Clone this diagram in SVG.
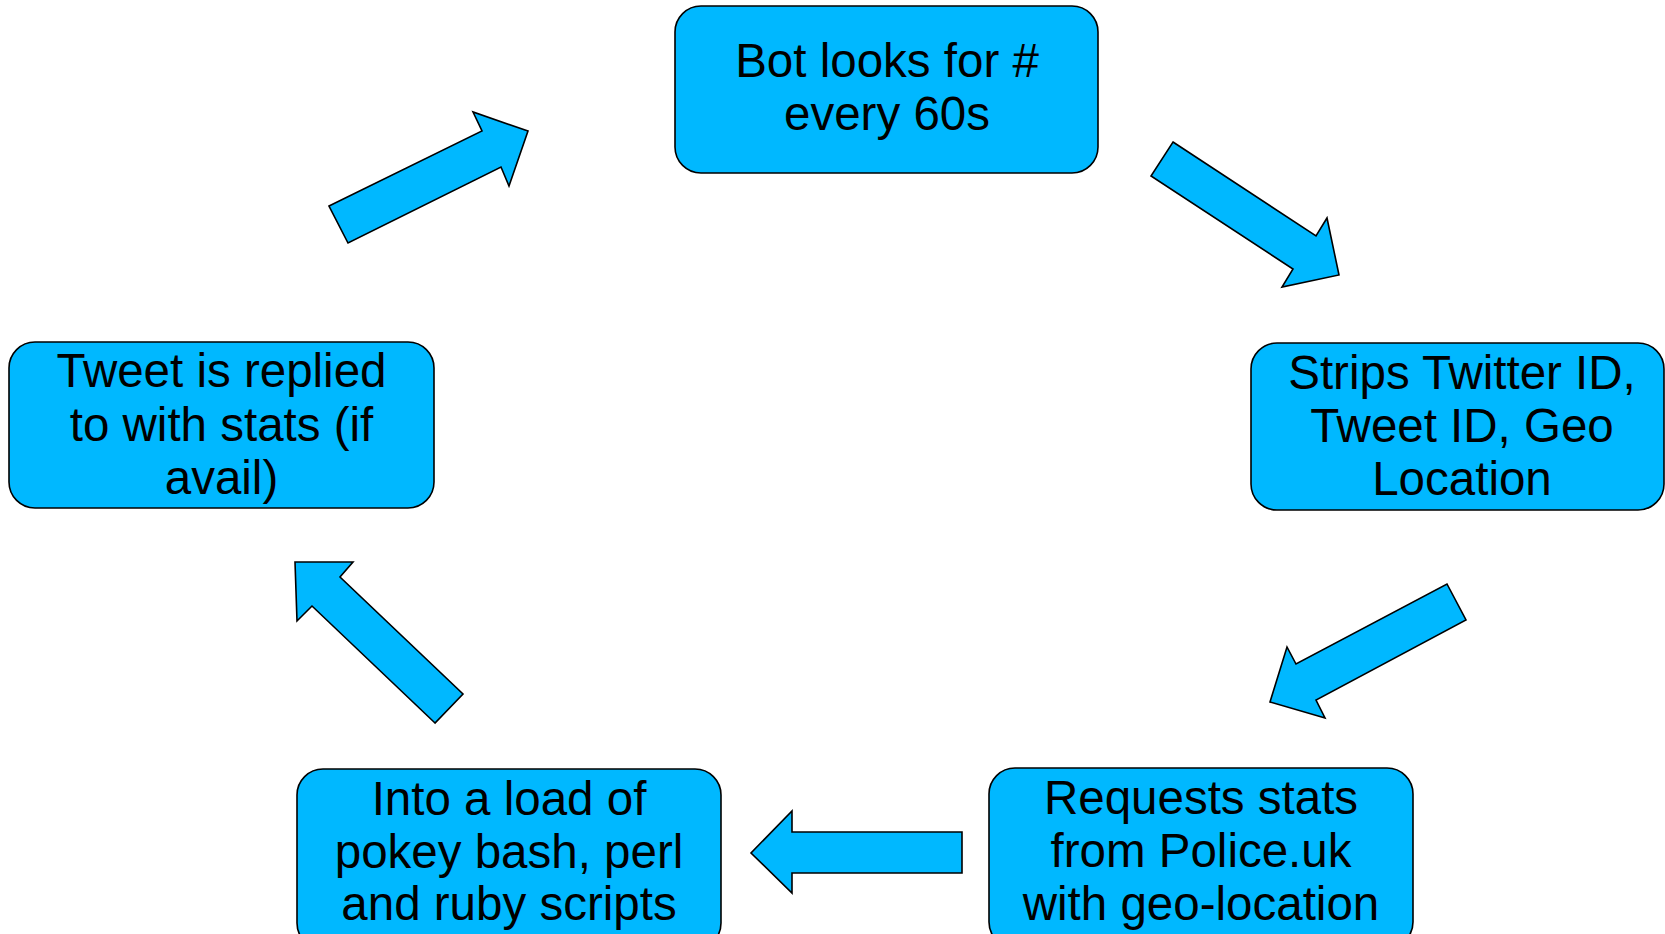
<svg xmlns="http://www.w3.org/2000/svg" width="1665" height="934" viewBox="0 0 1665 934">
<style>
.box{fill:#00b8ff;stroke:#000;stroke-width:1.6}
.arr{fill:#00b8ff;stroke:#000;stroke-width:1.6;stroke-linejoin:miter}
.t{font-family:"Liberation Sans",Arial,sans-serif;font-size:47.5px;fill:#000;text-anchor:middle}
</style>
<rect width="1665" height="934" fill="#fff"/>
<g id="n1"><rect class="box" x="675" y="6" width="423" height="167" rx="26"/>
<text class="t" x="887" y="77">Bot looks for #</text><text class="t" x="887" y="130">every 60s</text></g>
<g id="n2"><rect class="box" x="1251" y="343" width="413" height="167" rx="26"/>
<text class="t" x="1462" y="389">Strips Twitter ID,</text><text class="t" x="1462" y="442">Tweet ID, Geo</text><text class="t" x="1462" y="495">Location</text></g>
<g id="n3"><rect class="box" x="989" y="768" width="424" height="180" rx="26"/>
<text class="t" x="1201" y="814">Requests stats</text><text class="t" x="1201" y="867">from Police.uk</text><text class="t" x="1201" y="920">with geo-location</text></g>
<g id="n4"><rect class="box" x="297" y="769" width="424" height="180" rx="26"/>
<text class="t" x="509" y="815">Into a load of</text><text class="t" x="509" y="868">pokey bash, perl</text><text class="t" x="509" y="920">and ruby scripts</text></g>
<g id="n5"><rect class="box" x="9" y="342" width="425" height="166" rx="26"/>
<text class="t" x="221.5" y="387">Tweet is replied</text><text class="t" x="221.5" y="441">to with stats (if</text><text class="t" x="221.5" y="494">avail)</text></g>
<g id="connectors">
<polygon class="arr" points="1173,142 1316,236 1327,218 1339,275 1282,287 1293,269 1151,176"/>
<polygon class="arr" points="1447,584 1466,620 1316,700 1325,718 1270,702 1287,647 1296,664"/>
<polygon class="arr" points="962,832 792,832 792,811 751,853 792,893 792,873 962,873"/>
<polygon class="arr" points="435,723 312,606 297,621 295,562 353,562 340,577 463,694"/>
<polygon class="arr" points="329,206 482,131 473,112 528,131 509,186 501,167 348,243"/>
</g>
</svg>
